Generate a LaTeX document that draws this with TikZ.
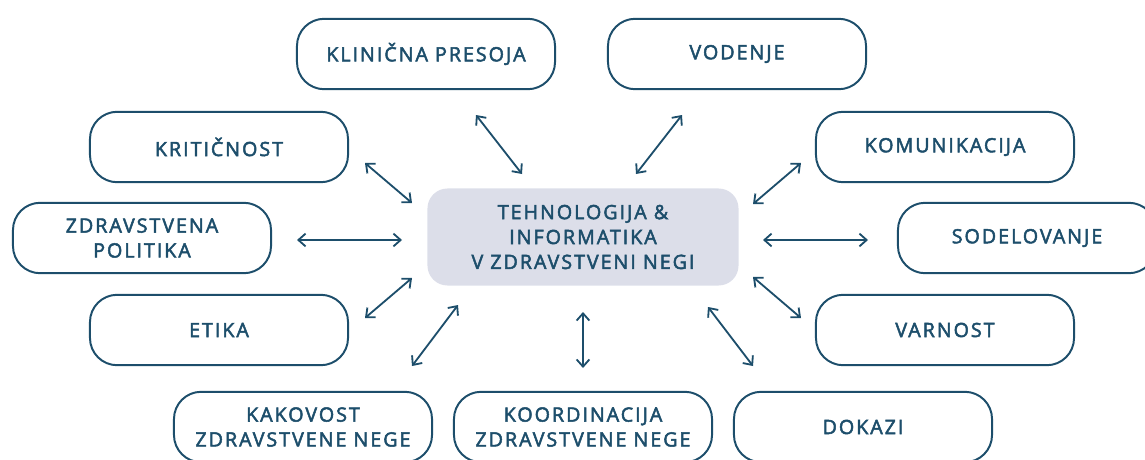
\documentclass[tikz,border=0pt]{standalone}
\usepackage{fontspec}
\setmainfont{Open Sans}[LetterSpace=10, FakeBold=2.5]
\usepackage{xcolor}
\usetikzlibrary{arrows.meta}
\definecolor{navy}{HTML}{1D4E6B}
\definecolor{mist}{HTML}{DCDEE9}

\begin{document}
\begin{tikzpicture}[x=0.025cm, y=-0.025cm,
    >={Straight Barb[length=1.8mm,width=3.2mm]},
    topic/.style={rectangle, draw=navy, line width=1.4pt, rounded corners=0.68cm, minimum width=6.45cm, minimum height=1.76cm, align=center, text=navy, font=\fontsize{14}{17.7}\selectfont},
    hub/.style={rectangle, fill=mist, rounded corners=0.5cm, minimum width=7.775cm, minimum height=2.425cm, align=center, text=navy, font=\fontsize{14}{17.7}\selectfont},
    link/.style={draw=navy, line width=1.3pt, <->}]
    \clip (0,0) rectangle (1145,460);

    \node (hub) [hub] at (583,237) {TEHNOLOGIJA \&\\INFORMATIKA\\V ZDRAVSTVENI NEGI};

    \node (klinicna) [topic] at (426,54) {KLINIČNA PRESOJA};
    \node (vodenje) [topic] at (737,54) {VODENJE};
    \node (kriticnost) [topic] at (219,147) {KRITIČNOST};
    \node (politika) [topic] at (142,238) {ZDRAVSTVENA\\POLITIKA};
    \node (etika) [topic] at (219,330) {ETIKA};
    \node (komunikacija) [topic] at (945,147) {KOMUNIKACIJA};
    \node (sodelovanje) [topic] at (1027,238) {SODELOVANJE};
    \node (varnost) [topic] at (945,330) {VARNOST};
    \node (kakovost) [topic] at (303,427) {KAKOVOST\\ZDRAVSTVENE NEGE};
    \node (koordinacija) [topic] at (583,427) {KOORDINACIJA\\ZDRAVSTVENE NEGE};
    \node (dokazi) [topic] at (863,427) {DOKAZI};

    % arrow ends between the boxes
    \coordinate (klinicna-end) at (476,115);
    \coordinate (klinicna-hub) at (522,174);
    \coordinate (vodenje-end) at (682,115);
    \coordinate (vodenje-hub) at (636,174);
    \coordinate (kriticnost-end) at (365,163);
    \coordinate (kriticnost-hub) at (412,203);
    \coordinate (politika-end) at (297,240);
    \coordinate (politika-hub) at (402,240);
    \coordinate (etika-end) at (365,318);
    \coordinate (etika-hub) at (412,278);
    \coordinate (komunikacija-end) at (801,163);
    \coordinate (komunikacija-hub) at (753,204);
    \coordinate (sodelovanje-end) at (868,240);
    \coordinate (sodelovanje-hub) at (763,240);
    \coordinate (varnost-end) at (801,318);
    \coordinate (varnost-hub) at (753,277);
    \coordinate (kakovost-end) at (412,366);
    \coordinate (kakovost-hub) at (458,305);
    \coordinate (koordinacija-end) at (583,368);
    \coordinate (koordinacija-hub) at (583,312);
    \coordinate (dokazi-end) at (753,366);
    \coordinate (dokazi-hub) at (708,307);

    \draw [link] (klinicna-end) -- (klinicna-hub);
    \draw [link] (vodenje-end) -- (vodenje-hub);
    \draw [link] (kriticnost-end) -- (kriticnost-hub);
    \draw [link] (politika-end) -- (politika-hub);
    \draw [link] (etika-end) -- (etika-hub);
    \draw [link] (komunikacija-end) -- (komunikacija-hub);
    \draw [link] (sodelovanje-end) -- (sodelovanje-hub);
    \draw [link] (varnost-end) -- (varnost-hub);
    \draw [link] (kakovost-end) -- (kakovost-hub);
    \draw [link] (koordinacija-end) -- (koordinacija-hub);
    \draw [link] (dokazi-end) -- (dokazi-hub);
\end{tikzpicture}
\end{document}
